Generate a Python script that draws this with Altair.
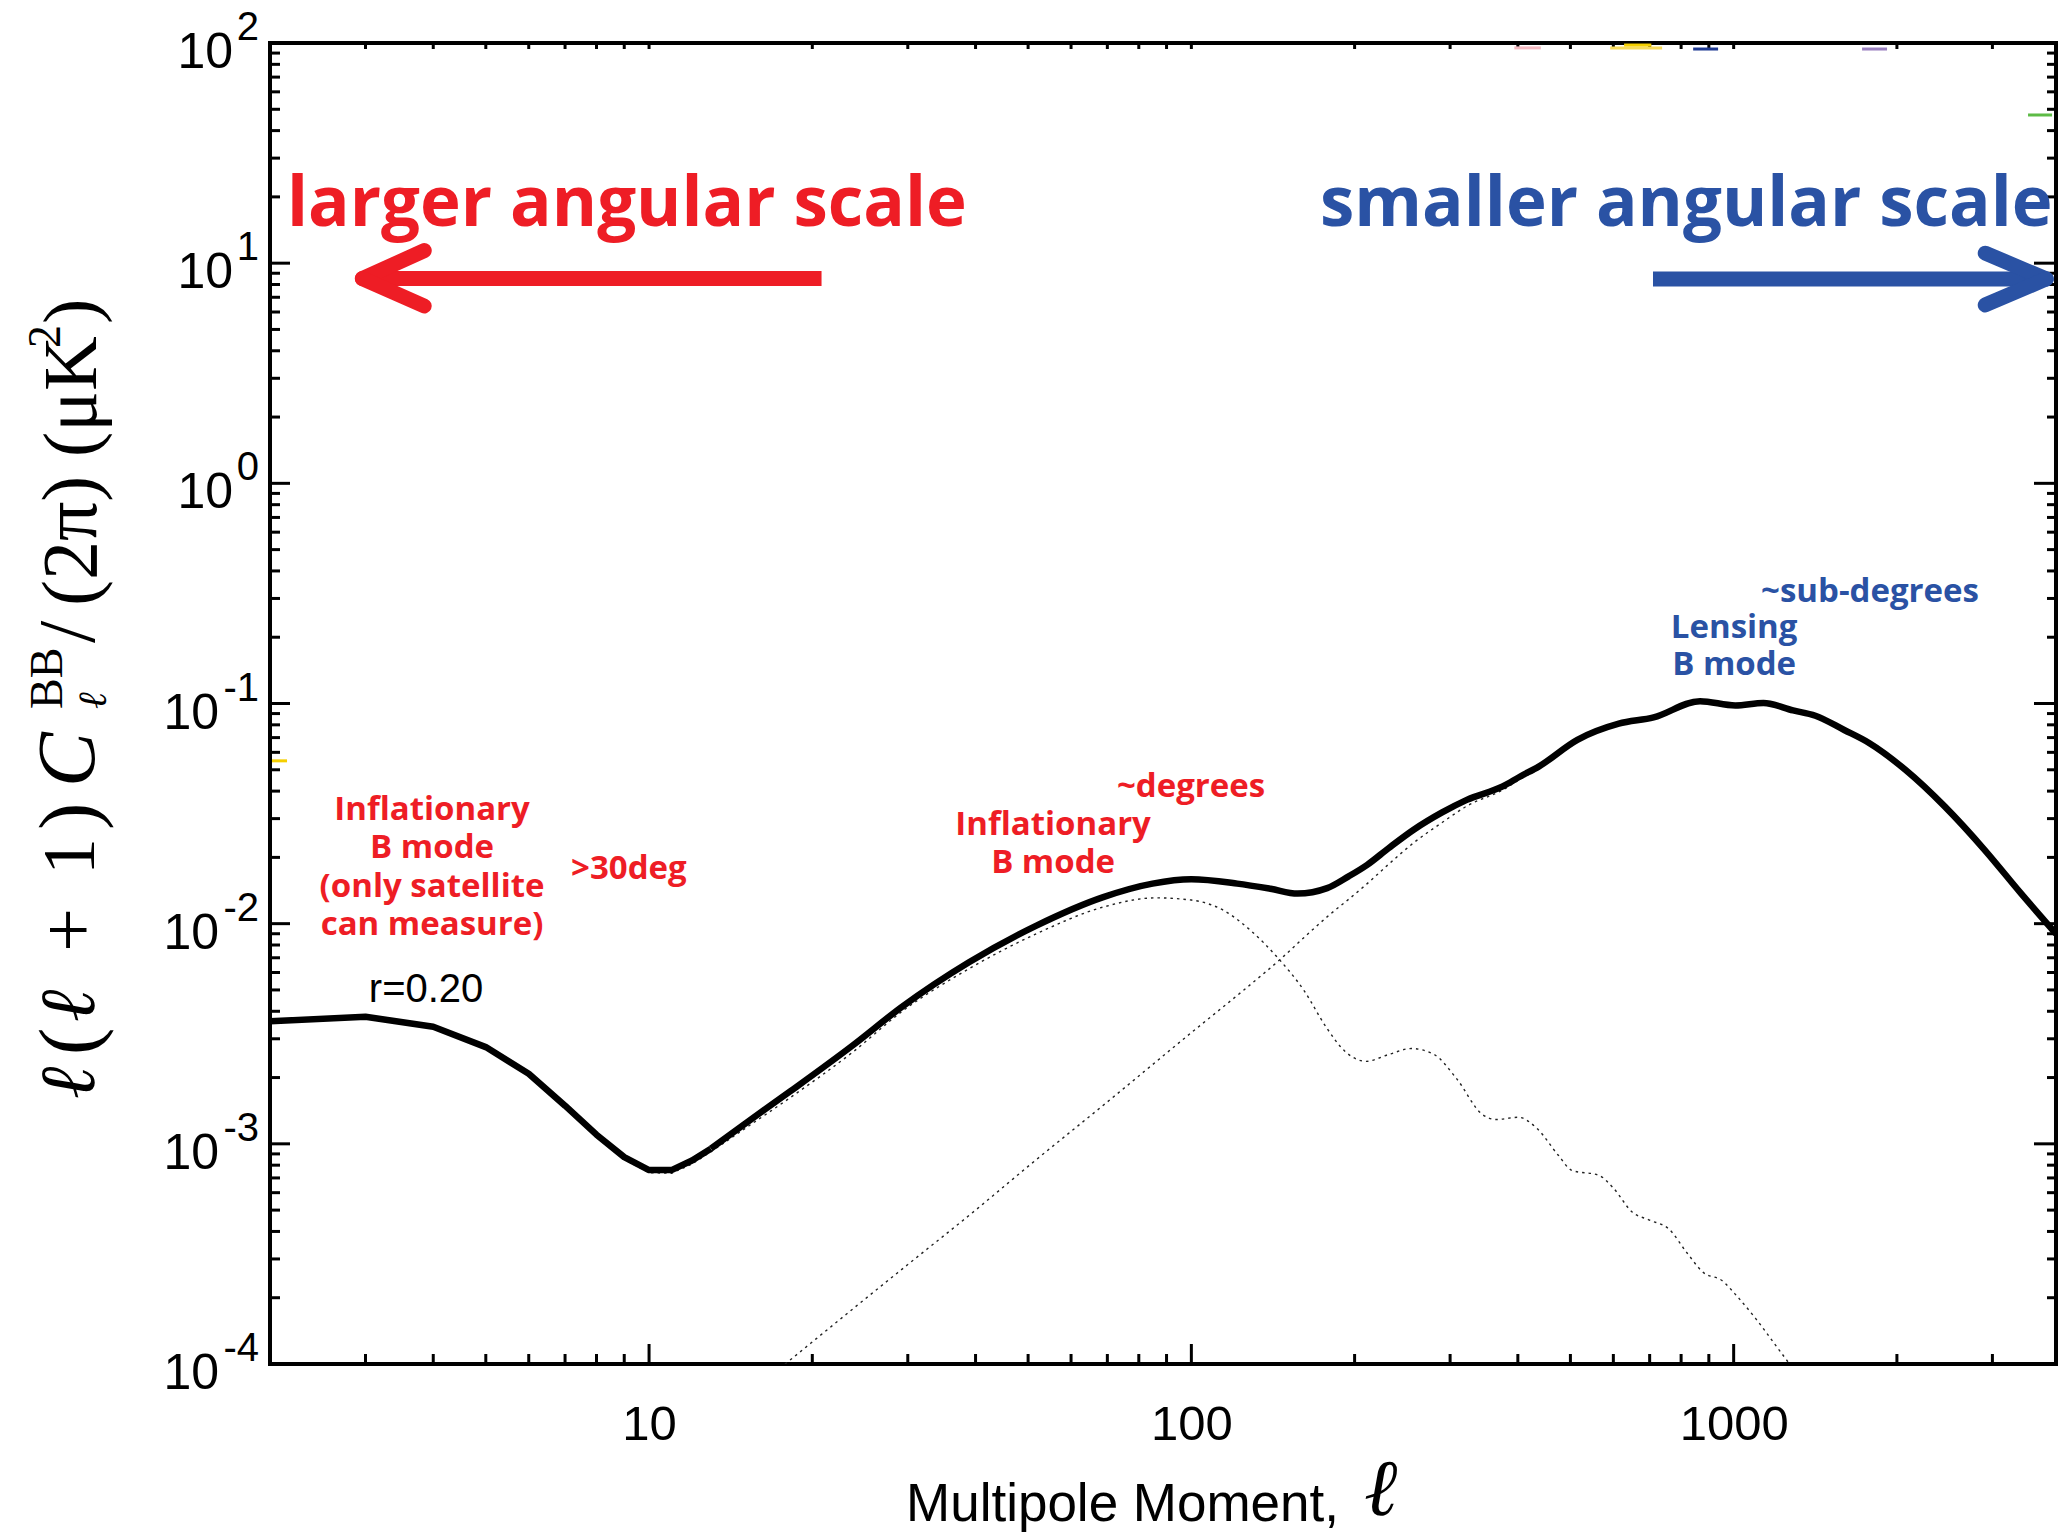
import altair as alt
import pandas as pd

# ---- B-mode power spectra, l(l+1)C_l^BB/(2pi) in uK^2 ----
ell_total = [2, 3, 4, 5, 6, 7, 8, 9, 10, 11,
             12, 13, 15, 18.2, 23.7, 29.3, 38.9, 51.8, 68.8, 84.8,
             100, 121.5, 140, 157, 178, 195, 211, 231, 257, 290,
             322, 375, 404, 437, 515, 614, 712, 867, 1007, 1135,
             1287, 1415, 1599, 1780, 2073, 2452, 2904, 3381, 3930]
dl_total = [3.6e-3, 3.78e-3, 3.40e-3, 2.75e-3, 2.08e-3, 1.49e-3, 1.10e-3, 8.7e-4, 7.6e-4, 7.6e-4,
            8.4e-4, 9.5e-4, 1.23e-3, 1.73e-3, 2.79e-3, 4.2e-3, 6.68e-3, 9.8e-3, 1.32e-2, 1.52e-2,
            1.59e-2, 1.52e-2, 1.44e-2, 1.37e-2, 1.45e-2, 1.64e-2, 1.85e-2, 2.2e-2, 2.67e-2, 3.2e-2,
            3.65e-2, 4.2e-2, 4.66e-2, 5.17e-2, 6.84e-2, 8.1e-2, 8.65e-2, 0.1025, 0.098, 0.1005,
            0.093, 0.088, 0.0758, 0.066, 0.050, 0.034, 0.0216, 0.0138, 9.0e-3]

# primordial (tensor, r = 0.20) component
ell_tensor = [2, 3, 4, 5, 6, 7, 8, 9, 10, 11,
              12, 13, 15, 18.2, 23.7, 29.3, 38.9, 51.8, 68.8, 86,
              100, 114.6, 128.5, 144, 161.5, 177.5, 191.7, 210, 231.5, 254.6,
              280, 307.8, 344, 365, 401, 433, 475, 503, 564, 600,
              650, 700, 760, 820, 880, 950, 1020, 1100, 1200, 1300]
dl_tensor = [3.58e-3, 3.76e-3, 3.38e-3, 2.73e-3, 2.06e-3, 1.47e-3, 1.08e-3, 8.5e-4, 7.4e-4, 7.35e-4,
             8.1e-4, 9.2e-4, 1.17e-3, 1.62e-3, 2.6e-3, 4.0e-3, 6.24e-3, 9.0e-3, 1.19e-2, 1.31e-2,
             1.28e-2, 1.15e-2, 9.33e-3, 7.04e-3, 4.95e-3, 3.37e-3, 2.64e-3, 2.37e-3, 2.55e-3, 2.71e-3,
             2.55e-3, 1.99e-3, 1.36e-3, 1.29e-3, 1.32e-3, 1.18e-3, 8.87e-4, 7.58e-4, 7.2e-4, 6.3e-4,
             4.9e-4, 4.5e-4, 4.1e-4, 3.2e-4, 2.6e-4, 2.4e-4, 2.0e-4, 1.6e-4, 1.2e-4, 9.2e-5]

# gravitational-lensing component
ell_lens = [15, 18, 25, 30, 40, 50, 70, 100, 125, 146,
            165, 180, 195, 211, 231, 257, 290, 322, 375, 404,
            437, 515, 614, 712, 867, 1007, 1135, 1287, 1415, 1599,
            1780, 2073, 2452, 2904, 3381, 3930]
dl_lens = [7.1e-5, 1.02e-4, 1.97e-4, 2.83e-4, 5.0e-4, 7.9e-4, 1.55e-3, 3.2e-3, 5.0e-3, 6.9e-3,
           9.1e-3, 1.1e-2, 1.29e-2, 1.52e-2, 1.86e-2, 2.33e-2, 2.88e-2, 3.42e-2, 4.05e-2, 4.53e-2,
           5.05e-2, 6.76e-2, 8.04e-2, 8.6e-2, 0.1022, 0.0978, 0.1003, 0.0929, 0.0879, 0.0757,
           0.066, 0.050, 0.034, 0.0216, 0.0138, 9.0e-3]

# ---- tick positions ----
x_major = [10, 100, 1000]
x_minor = [2, 3, 4, 5, 6, 7, 8, 9, 20, 30, 40, 50, 60, 70, 80, 90,
           200, 300, 400, 500, 600, 700, 800, 900, 2000, 3000]
y_exponents = [-4, -3, -2, -1, 0, 1, 2]
y_minor = [m * 10.0 ** e for e in range(-4, 2) for m in range(2, 10)]

RED = "#EE1D25"
BLUE = "#2A52A4"
W, H = 1786, 1321
LOW_L = 13  # below this the spectra are joined point to point
MATH = "Liberation Serif"
ELL_FONT = "DejaVu Serif"

xs = alt.Scale(type="log", domain=[2, 3930])
ys = alt.Scale(type="log", domain=[1e-4, 100])
x_axis = alt.Axis(values=x_major, format="d", title=None, grid=False, ticks=False,
                  tickSize=0, domain=False, labelFont="Liberation Sans", labelFontSize=49,
                  labelColor="black", labelPadding=36, labelFlush=False, labelOverlap=False)


def X(field):
    return alt.X(f"{field}:Q", scale=xs, axis=x_axis)


def Y(field):
    return alt.Y(f"{field}:Q", scale=ys, axis=None)


def X2(field):
    return alt.X2(f"{field}:Q")


def Y2(field):
    return alt.Y2(f"{field}:Q")


def spectrum(ell, dl, **style):
    """Integer multipoles joined straight, the smooth high-l part interpolated."""
    base = alt.Chart(pd.DataFrame({"ell": ell, "dl": dl}))
    low = (base.transform_filter(alt.datum.ell <= LOW_L)
           .mark_line(interpolate="linear", clip=True, strokeJoin="round", **style)
           .encode(x=X("ell"), y=Y("dl")))
    high = (base.transform_filter(alt.datum.ell >= LOW_L)
            .mark_line(interpolate="monotone", clip=True, strokeJoin="round", **style)
            .encode(x=X("ell"), y=Y("dl")))
    return [low, high]


layers = []

# ---- spectra ----
dotted = dict(color="#222222", strokeWidth=1.4, strokeDash=[2.5, 4])
layers += spectrum(ell_tensor, dl_tensor, **dotted)
layers.append(alt.Chart(pd.DataFrame({"ell": ell_lens, "dl": dl_lens}))
              .mark_line(interpolate="monotone", clip=True, **dotted)
              .encode(x=X("ell"), y=Y("dl")))
layers += spectrum(ell_total, dl_total, color="black", strokeWidth=6.5)


# ---- inward ticks on all four sides ----
def xticks(values, top, length):
    df = pd.DataFrame({"v": values})
    if top:
        enc = dict(y=alt.value(0), y2=alt.value(length))
    else:
        enc = dict(y=alt.value(H), y2=alt.value(H - length))
    return alt.Chart(df).mark_rule(color="black", strokeWidth=3).encode(x=X("v"), **enc)


def yticks(values, right, length):
    df = pd.DataFrame({"v": values})
    if right:
        enc = dict(x=alt.value(W), x2=alt.value(W - length))
    else:
        enc = dict(x=alt.value(0), x2=alt.value(length))
    return alt.Chart(df).mark_rule(color="black", strokeWidth=3).encode(y=Y("v"), **enc)


layers += [
    xticks(x_major, False, 20), xticks(x_minor, False, 10),
    xticks(x_major + x_minor, True, 6),
    yticks([10.0 ** e for e in y_exponents], False, 20), yticks(y_minor, False, 10),
    yticks([10.0 ** e for e in y_exponents], True, 22), yticks(y_minor, True, 9),
]

# ---- y tick labels: "10" with raised exponent ----
for sign_ok, base_x in ((lambda e: e >= 0, -37), (lambda e: e < 0, -51)):
    exps = [e for e in y_exponents if sign_ok(e)]
    df = pd.DataFrame({"v": [10.0 ** e for e in exps],
                       "base": ["10"] * len(exps),
                       "exp": [str(e) for e in exps]})
    layers.append(alt.Chart(df).mark_text(font="Liberation Sans", fontSize=50, align="right",
                                          baseline="alphabetic", dy=25, color="black")
                  .encode(x=alt.value(base_x), y=Y("v"), text="base:N"))
    layers.append(alt.Chart(df).mark_text(font="Liberation Sans", fontSize=40, align="right",
                                          baseline="alphabetic", dy=-3, color="black")
                  .encode(x=alt.value(-11), y=Y("v"), text="exp:N"))

# ---- x axis title ----
layers.append(alt.Chart(pd.DataFrame({"t": ["Multipole Moment,"]}))
              .mark_text(font="Liberation Sans", fontSize=53, align="left",
                         baseline="alphabetic", color="black")
              .encode(x=alt.value(636), y=alt.value(1478), text="t:N"))
layers.append(alt.Chart(pd.DataFrame({"t": ["ℓ"]}))
              .mark_text(font=ELL_FONT, fontStyle="italic", fontSize=80,
                         align="left", baseline="alphabetic", color="black")
              .encode(x=alt.value(1094), y=alt.value(1472), text="t:N"))

# ---- y axis title, set piece by piece (rotated) ----
y_title = [
    # text, start along the axis, baseline offset, size, italic
    ("ℓ", 1056, -176, 78, True),
    ("(", 1012, -174, 82, False),
    ("ℓ", 979, -176, 78, True),
    ("+", 909, -176, 78, False),
    ("1", 832, -176, 74, False),
    (")", 787, -174, 82, False),
    ("C", 744, -176, 82, True),
    ("BB", 666, -208, 46, False),
    ("ℓ", 666, -164, 40, True),
    ("/", 600, -176, 80, False),
    ("(2π)", 563, -174, 78, False),
    ("(μK", 414, -174, 76, False),
    ("2", 305, -210, 46, False),
    (")", 281, -174, 76, False),
]
for txt, py, px, size, italic in y_title:
    mk = dict(font=ELL_FONT if txt == "ℓ" else MATH, fontSize=size, angle=270,
              align="left", baseline="alphabetic", color="black")
    if italic:
        mk["fontStyle"] = "italic"
    layers.append(alt.Chart(pd.DataFrame({"t": [txt]})).mark_text(**mk)
                  .encode(x=alt.value(px), y=alt.value(py), text="t:N"))

# ---- annotations placed in data coordinates ----
big = dict(font="Open Sans", fontWeight="bold", fontSize=69, align="left", baseline="alphabetic")
layers.append(alt.Chart(pd.DataFrame({"t": ["larger angular scale"], "l": [2.15], "v": [14.75]}))
              .mark_text(color=RED, **big).encode(x=X("l"), y=Y("v"), text="t:N"))
layers.append(alt.Chart(pd.DataFrame({"t": ["smaller angular scale"], "l": [172.7], "v": [14.75]}))
              .mark_text(color=BLUE, **big).encode(x=X("l"), y=Y("v"), text="t:N"))

small = dict(font="Open Sans", fontWeight="bold", fontSize=33, align="center", baseline="middle")
red_notes = pd.DataFrame({
    "t": ["Inflationary", "B mode", "(only satellite", "can measure)", ">30deg",
          "~degrees", "Inflationary", "B mode"],
    "l": [3.98, 3.98, 3.98, 3.98, 9.18, 99.9, 55.6, 55.6],
    "v": [0.0329, 0.0221, 0.01469, 0.00988, 0.01774, 0.0418, 0.0281, 0.01888],
})
blue_notes = pd.DataFrame({
    "t": ["Lensing", "B mode", "~sub-degrees"],
    "l": [1002, 1002, 1784],
    "v": [0.2205, 0.1497, 0.3213],
})
layers.append(alt.Chart(red_notes).mark_text(color=RED, **small)
              .encode(x=X("l"), y=Y("v"), text="t:N"))
layers.append(alt.Chart(blue_notes).mark_text(color=BLUE, **small)
              .encode(x=X("l"), y=Y("v"), text="t:N"))
layers.append(alt.Chart(pd.DataFrame({"t": ["r=0.20"], "l": [3.88], "v": [0.0050]}))
              .mark_text(font="Liberation Sans", fontSize=40, align="center",
                         baseline="middle", color="black")
              .encode(x=X("l"), y=Y("v"), text="t:N"))


# ---- direction arrows ----
def arrow(color, shaft, arms):
    s = pd.DataFrame([shaft], columns=["l1", "v1", "l2", "v2"])
    a = pd.DataFrame(arms, columns=["l1", "v1", "l2", "v2"])
    return [
        alt.Chart(s).mark_rule(color=color, strokeWidth=15, strokeCap="butt")
        .encode(x=X("l1"), y=Y("v1"), x2=X2("l2"), y2=Y2("v2")),
        alt.Chart(a).mark_rule(color=color, strokeWidth=15, strokeCap="round")
        .encode(x=X("l1"), y=Y("v1"), x2=X2("l2"), y2=Y2("v2")),
    ]


layers += arrow(RED, (20.8, 8.51, 3.02, 8.51),
                [(2.96, 8.51, 3.85, 11.4), (2.96, 8.51, 3.85, 6.39)])
layers += arrow(BLUE, (710, 8.48, 3700, 8.48),
                [(3770, 8.48, 2910, 11.1), (3770, 8.48, 2910, 6.46)])

# ---- small coloured legend remnants along the frame ----
stubs = pd.DataFrame({
    "l1": [394, 592, 628, 842, 1725, 3490, 2.017],
    "l2": [441, 738, 705, 936, 1918, 3865, 2.15],
    "v": [95.0, 95.0, 97.9, 93.9, 93.9, 47.1, 0.0549],
    "c": ["#F4B9C1", "#F7DB5A", "#F5CF00", "#1F3A93", "#9A80C0", "#5DBB46", "#F5CF00"],
})
layers.append(alt.Chart(stubs).mark_rule(strokeWidth=3)
              .encode(x=X("l1"), x2=X2("l2"), y=Y("v"), color=alt.Color("c:N", scale=None)))

chart = (alt.layer(*layers)
         .properties(width=W, height=H, background="white",
                     padding={"left": 270, "top": 43, "right": 8, "bottom": 172},
                     autosize=alt.AutoSizeParams(type="none"))
         .configure_view(stroke="black", strokeWidth=4))

chart.save("out.html", embed_options={"renderer": "svg", "actions": False})
